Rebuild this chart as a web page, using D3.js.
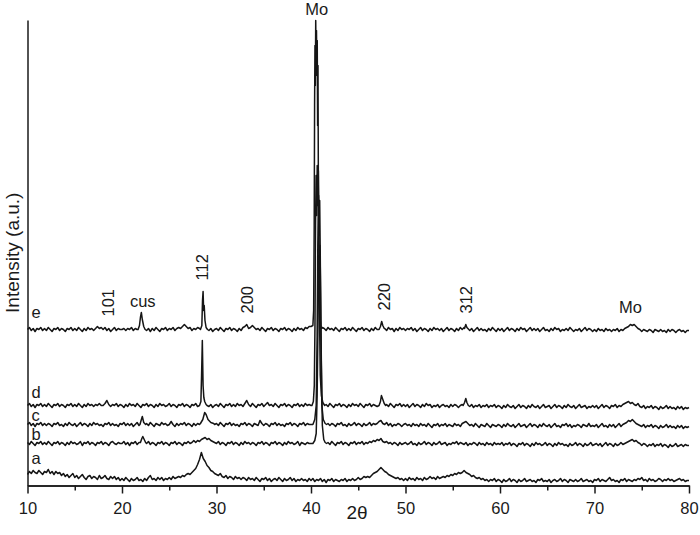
<!DOCTYPE html>
<html>
<head>
<meta charset="utf-8">
<script src="https://cdn.jsdelivr.net/npm/d3@7"></script>
<style>
body { margin: 0; background: #fff; }
svg text { font-family: "Liberation Sans", Arial, sans-serif; fill: #1a1a1a; }
.trace { fill: none; stroke: #151515; stroke-width: 1.5; stroke-linejoin: round; }
.axis path, .axis line { stroke: #1a1a1a; stroke-width: 1.5; }
</style>
</head>
<body>
<div id="container"></div>
<script>
const width = 700;
const height = 535;

// sampling grid of the baseline readings (2theta, degrees)
const gridStart = 10;
const gridStep = 0.2;

// baseline readings, one value per grid step, 10..80 (one row per 10 degrees)
const aGrid = [
  11,14,12,15,13, 12,15,13,11,14, 13,16,12,14,11, 14,12,13,10,12, 9,11,8,10,12, 8,10,7,9,11, 8,6,9,10,7, 9,8,6,10,7, 8,10,7,6,9, 7,9,6,8,5,
  7,5,8,6,4, 7,5,6,8,5, 6,4,7,5,8, 10,6,7,5,8, 6,8,5,7,6, 8,6,9,7,8, 9,8,10,9,11, 12,11,13,15,17, 21,26,33,27,24, 20,18,15,14,12,
  11,10,12,9,8, 10,7,9,8,6, 9,7,8,6,8, 7,5,8,6,7, 5,8,6,4,7, 6,8,5,7,4, 6,7,5,8,6, 4,7,5,6,8, 5,7,4,6,5, 7,5,6,4,7,
  5,7,4,6,5, 7,4,6,3,6, 5,7,4,6,5, 4,6,5,7,4, 6,5,7,5,6, 8,6,7,9,8, 9,8,10,12,13, 14,16,18,16,14, 13,11,10,9,8, 7,8,6,7,5,
  7,5,8,6,7, 5,8,6,7,5, 8,6,7,9,7, 8,6,9,7,8, 9,8,10,9,11, 10,12,11,13,12, 13,15,13,12,11, 9,10,8,7,8, 6,7,5,6,4, 6,5,7,4,6,
  5,3,6,4,5, 7,4,6,5,3, 6,4,5,7,4, 5,6,4,5,3, 6,5,7,4,5, 4,6,3,5,6, 4,5,7,4,6, 5,3,6,5,4, 6,4,5,7,4, 5,6,4,5,3,
  6,5,7,4,6, 5,4,6,8,5, 6,4,5,3,6, 5,7,4,6,5, 4,6,5,7,6, 8,5,6,4,7, 5,6,4,5,7, 6,4,6,5,7, 5,6,4,5,6, 7,5,6,4,5,
  5
];
const bGrid = [
  43,41,44,42,40, 43,42,44,41,43, 41,44,42,40,43, 42,44,41,43,42, 40,43,41,44,42, 43,41,42,44,40, 43,42,44,41,43, 42,40,43,42,44, 41,43,42,40,43, 44,42,41,43,42,
  42,44,41,43,40, 43,42,44,41,43, 43,43,43,42,44, 41,43,42,40,43, 42,44,41,43,42, 40,43,42,44,41, 43,42,40,43,42, 44,42,43,45,43, 45,44,46,47,48, 46,47,45,44,43,
  42,44,41,43,42, 40,43,42,44,41, 43,42,40,43,41, 44,42,43,41,43, 42,40,43,42,44, 41,43,42,40,43, 42,44,41,43,42, 40,43,41,44,42, 43,41,42,44,40, 43,42,41,43,42,
  42,42,42,42,42, 42,42,42,42,43, 41,44,42,40,43, 42,44,41,43,42, 40,43,42,44,41, 43,42,44,41,43, 42,44,43,45,44, 46,45,47,44,43, 44,42,43,41,43, 42,40,43,41,42,
  43,41,42,44,41, 42,40,43,41,42, 44,41,43,42,40, 43,41,42,44,41, 42,43,40,42,41, 43,42,44,41,43, 42,41,43,40,42, 41,43,42,40,43, 41,42,40,43,41, 42,40,43,41,42,
  41,43,40,42,41, 43,40,42,41,39, 42,41,43,40,42, 41,39,42,40,43, 41,42,40,41,43, 40,42,41,39,42, 40,43,41,42,40, 41,39,42,40,41, 43,40,42,41,39, 42,40,41,43,40,
  41,42,40,42,39, 41,43,40,42,41, 39,42,40,41,43, 41,42,43,44,45, 46,44,45,43,42, 40,42,41,39,41, 40,42,39,41,40, 42,39,41,40,38, 41,39,40,42,39, 40,41,39,41,40,
  40
];
const cGrid = [
  61,63,60,62,59, 62,61,63,60,62, 60,62,61,59,62, 61,63,60,61,59, 62,60,63,61,60, 62,59,61,63,60, 62,61,59,62,60, 63,61,62,60,61, 59,62,61,63,60, 62,60,61,59,62,
  61,63,60,62,60, 62,59,61,63,60, 61,61,61,62,60, 63,61,59,62,61, 60,63,61,62,60, 61,64,61,59,62, 60,62,61,63,60, 62,61,59,62,60, 62,61,61,61,61, 61,61,61,61,61,
  62,60,63,61,59, 62,61,63,60,62, 60,61,59,62,61, 63,60,62,61,59, 62,61,60,65,62, 60,62,61,59,62, 61,63,60,62,60, 61,59,62,61,63, 60,62,61,59,62, 61,63,60,62,61,
  61,61,61,61,61, 61,61,61,61,62, 60,62,61,59,62, 61,63,60,61,59, 62,60,61,63,60, 62,61,59,62,60, 61,63,60,62,61, 62,64,65,62,61, 63,60,62,59,61, 60,62,61,59,61,
  62,60,61,59,62, 60,61,59,62,60, 61,59,62,60,58, 61,60,62,59,61, 60,62,59,61,60, 59,62,60,61,59, 62,63,64,62,60, 61,59,62,60,58, 61,60,59,62,60, 58,61,60,59,61,
  60,58,61,59,62, 60,59,61,58,60, 62,59,60,61,58, 60,62,59,61,60, 58,61,59,62,60, 59,61,58,60,62, 59,60,58,61,60, 62,59,61,58,60, 59,61,60,58,61, 60,59,62,59,60,
  59,61,58,60,62, 59,60,58,61,59, 61,58,60,62,59, 61,62,63,65,64, 66,64,62,61,60, 59,61,58,60,59, 61,58,60,59,57, 60,58,59,61,58, 60,58,59,57,60, 58,60,57,59,58,
  59
];
const dGrid = [
  80,82,79,81,78, 81,80,82,79,81, 79,82,80,78,81, 80,82,79,81,80, 78,81,80,82,79, 81,79,82,80,78, 81,79,82,80,81, 79,81,80,82,80, 80,82,85,81,79, 81,80,82,79,81,
  80,78,81,79,82, 80,81,79,82,80, 78,81,80,82,79, 81,80,78,81,79, 82,80,81,79,80, 82,79,81,80,78, 81,80,82,79,81, 80,78,81,80,82, 79,80,80,80,80, 80,79,81,78,80,
  81,79,82,80,78, 81,80,82,79,81, 79,82,80,81,79, 82,85,81,79,82, 80,78,81,80,82, 79,81,83,80,81, 79,82,80,78,81, 80,82,79,81,80, 78,81,80,82,79, 81,79,82,80,81,
  80,80,80,80,80, 80,80,80,81,79, 82,80,78,81,80, 82,79,81,80,78, 81,79,82,80,81, 79,82,80,78,81, 80,82,79,81,80, 79,80,80,80,80, 81,79,82,80,78, 81,80,82,79,81,
  79,81,78,80,82, 79,81,80,78,81, 79,82,80,81,78, 80,79,81,78,80, 81,79,80,78,81, 79,81,80,78,80, 81,80,80,80,79, 81,78,80,79,81, 78,80,79,81,78, 80,79,81,78,80,
  79,77,80,78,81, 79,78,80,77,79, 81,78,80,79,77, 80,78,81,79,78, 80,77,79,81,78, 79,80,77,79,81, 78,80,79,77,80, 78,81,79,78,80, 77,79,81,78,79, 80,77,79,78,80,
  78,80,77,79,81, 78,80,79,77,80, 79,81,78,80,79, 81,82,83,84,82, 83,81,80,82,79, 78,80,77,79,78, 80,77,79,78,76, 79,77,78,80,77, 79,77,78,76,79, 77,79,76,78,77,
  78
];
const eGrid = [
  156,158,155,157,154, 157,156,158,155,157, 155,158,156,154,157, 156,158,155,157,156, 154,157,156,158,155, 157,155,158,156,154, 157,155,158,156,157, 155,157,159,157,158, 156,158,155,157,154, 156,158,155,157,156,
  156,157,155,157,156, 158,155,157,156,156, 156,156,156,155,157, 154,157,155,158,156, 154,157,156,158,155, 157,156,158,155,157, 158,157,159,161,159, 157,158,155,157,156, 158,157,156,156,156, 156,155,157,154,156,
  157,155,158,156,154, 157,156,158,155,157, 156,154,157,155,158, 159,161,157,158,160, 158,156,157,155,158, 156,154,157,156,158, 155,157,156,154,157, 156,158,155,157,156, 154,157,155,158,156, 157,155,158,157,159,
  159,160,160,160,160, 160,158,157,155,158, 156,157,155,158,156, 154,157,156,158,155, 157,155,158,156,154, 157,156,158,155,157, 156,154,157,155,158, 156,156,156,156,157, 155,158,156,157,154, 157,155,158,156,157,
  155,157,156,158,155, 157,154,156,158,155, 157,156,154,157,155, 158,156,157,155,157, 154,156,158,155,157, 156,154,157,155,158, 156,158,156,157,155, 157,154,156,158,155, 157,155,156,154,157, 155,158,156,154,157,
  155,157,154,156,158, 155,157,156,154,157, 155,158,156,157,154, 156,158,155,157,155, 157,154,156,158,155, 156,154,157,155,158, 156,157,154,156,155, 157,155,158,156,154, 156,155,157,154,156, 158,155,157,156,154,
  156,154,157,155,156, 154,157,155,156,154, 156,155,157,154,156, 155,157,158,159,161, 160,161,159,157,156, 154,156,155,154,156, 155,153,156,155,154, 156,154,155,153,156, 154,156,155,153,155, 156,154,155,153,155,
  155
];

// sharp reflections read at finer spacing: [2theta, intensity]
const bPeaks = [
  [[21.95,43],[22.1,47],[22.2,49],[22.35,46],[22.5,43]],
  [[40.2,42],[40.4,45],[40.55,52],[40.65,90],[40.75,170],[40.82,230],[40.88,200],[40.95,240],[41.02,190],[41.1,120],[41.2,60],[41.35,46],[41.5,43],[41.65,42]]
];
const cPeaks = [
  [[21.9,61],[22.05,66],[22.15,69],[22.3,63],[22.5,61]],
  [[28.3,62],[28.55,66],[28.75,73],[28.9,71],[29.1,66],[29.4,63],[29.7,62]],
  [[40.2,61],[40.4,66],[40.55,80],[40.65,150],[40.72,240],[40.8,290],[40.86,250],[40.92,285],[40.98,230],[41.05,150],[41.15,80],[41.3,66],[41.5,62],[41.65,61]]
];
const dPeaks = [
  [[28.2,80],[28.35,84],[28.42,110],[28.5,145],[28.58,100],[28.66,88],[28.75,84],[28.9,81]],
  [[40.1,80],[40.25,84],[40.35,100],[40.42,160],[40.48,260],[40.54,310],[40.6,270],[40.66,320],[40.72,280],[40.78,315],[40.84,250],[40.9,170],[40.98,110],[41.1,90],[41.25,83],[41.45,80]],
  [[47.2,80],[47.35,84],[47.45,90],[47.6,86],[47.75,82],[47.9,80]],
  [[56.1,80],[56.25,83],[56.38,87],[56.5,83],[56.65,80]]
];
const ePeaks = [
  [[21.7,156],[21.85,160],[21.95,168],[22.05,173],[22.15,166],[22.3,159],[22.45,156]],
  [[28.3,156],[28.45,160],[28.52,185],[28.58,194],[28.64,175],[28.7,180],[28.78,165],[28.9,158],[29.05,156]],
  [[40.2,160],[40.28,175],[40.34,260],[40.38,380],[40.42,440],[40.46,400],[40.5,465],[40.54,420],[40.58,455],[40.62,410],[40.66,445],[40.7,360],[40.74,420],[40.78,300],[40.82,250],[40.86,200],[40.92,172],[41.02,160],[41.12,157]],
  [[47.2,156],[47.35,159],[47.48,164],[47.6,160],[47.75,157]],
  [[56.25,157],[56.38,161],[56.5,158]]
];

const seriesNames = ["a", "b", "c", "d", "e"];
const xTicks = [10, 20, 30, 40, 50, 60, 70, 80];
const xMinorTicks = [15, 25, 35, 45, 55, 65, 75];
const peakLabels = ["101", "cus", "112", "200", "220", "312", "Mo", "Mo"];
const peakLabelTheta = [18.5, 22.2, 28.5, 33.2, 47.7, 56.45, 40.6, 73.8];
const peakLabelRotated = [true, false, true, true, true, true, false, false];

// how far each series letter sits above its trace (px)
const labelLift = [11, 3, 4, 8, 12];

function buildSeries(grid, peaks) {
    let pts = grid.map(function(v, i) { return [gridStart + gridStep * i, v]; });
    peaks.forEach(function(p) {
        const lo = p[0][0], hi = p[p.length - 1][0];
        pts = pts.filter(function(d) { return d[0] < lo - 1e-6 || d[0] > hi + 1e-6; });
        pts = pts.concat(p);
    });
    return pts.sort(function(a, b) { return a[0] - b[0]; });
}

const slices = [
    buildSeries(aGrid, []),
    buildSeries(bGrid, bPeaks),
    buildSeries(cGrid, cPeaks),
    buildSeries(dGrid, dPeaks),
    buildSeries(eGrid, ePeaks)
];

const svg = d3.select("div#container")
    .append("svg")
    .attr("width", width)
    .attr("height", height);

const xScale = d3.scaleLinear().domain([10, 80]).range([27.5, 689]);
const yScale = d3.scaleLinear().domain([0, 465.5]).range([485.5, 20]);

const line = d3.line()
    .x(function(d) { return xScale(d[0]); })
    .y(function(d) { return yScale(d[1]); });

svg.selectAll("path.trace")
    .data(slices)
    .enter()
    .append("path")
    .attr("class", "trace")
    .attr("d", line);

// axes
const xaxis = d3.axisBottom(xScale)
    .tickValues(xTicks)
    .tickFormat(d3.format("d"))
    .tickSize(8)
    .tickSizeOuter(0)
    .tickPadding(9);

const xminor = d3.axisBottom(xScale)
    .tickValues(xMinorTicks)
    .tickFormat("")
    .tickSize(5)
    .tickSizeOuter(0);

svg.append("g")
    .attr("class", "axis")
    .attr("transform", "translate(0," + yScale(0) + ")")
    .call(xminor);

const gx = svg.append("g")
    .attr("class", "axis")
    .attr("transform", "translate(0," + yScale(0) + ")")
    .call(xaxis);
gx.attr("font-size", null).attr("font-family", null);
gx.selectAll("text").style("font-size", "16.5px");

svg.append("g")
    .attr("class", "axis")
    .attr("transform", "translate(" + xScale(10) + ",0)")
    .call(d3.axisLeft(yScale).tickValues([]).tickSizeOuter(0));

svg.append("text")
    .attr("x", 357)
    .attr("y", 519)
    .attr("text-anchor", "middle")
    .style("font-size", "19px")
    .text("2\u03b8");

svg.append("text")
    .attr("transform", "translate(18.5," + (yScale(0) + yScale(465.5)) / 2 + ") rotate(-90)")
    .attr("text-anchor", "middle")
    .style("font-size", "19px")
    .text("Intensity (a.u.)");

// series letters
svg.selectAll("text.serie_label")
    .data(slices)
    .enter()
    .append("text")
    .attr("class", "serie_label")
    .attr("x", xScale(10) + 4)
    .attr("y", function(d, i) { return yScale(d[0][1]) - labelLift[i]; })
    .style("font-size", "16.5px")
    .text(function(d, i) { return seriesNames[i]; });

// reflection labels above trace e
const eSeries = slices[4];
const eBase = eGrid[0];
peakLabels.forEach(function(t, i) {
    const th = peakLabelTheta[i];
    const top = d3.max(eSeries.filter(function(d) { return Math.abs(d[0] - th) <= 0.5; }),
        function(d) { return d[1]; });
    const px = xScale(th);
    if (peakLabelRotated[i]) {
        svg.append("text")
            .attr("transform", "translate(" + (px + 6) + "," + (yScale(top) - 11) + ") rotate(-90)")
            .style("font-size", "16.5px")
            .text(t);
    } else {
        svg.append("text")
            .attr("x", px)
            .attr("y", Math.min(yScale(top) - 6, yScale(eBase) - 17))
            .attr("text-anchor", "middle")
            .style("font-size", "16.5px")
            .text(t);
    }
});
</script>
</body>
</html>
